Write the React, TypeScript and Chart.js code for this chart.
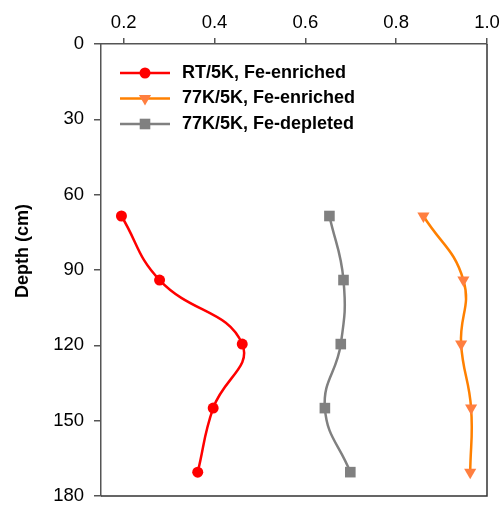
import { useEffect, useRef } from 'react';
import { Chart, registerables } from 'chart.js';

Chart.register(...registerables);

const depths = [68.5, 94, 119.5, 145, 170.5];
const rtFeEnriched = [0.195, 0.279, 0.461, 0.397, 0.363];
const k77FeEnriched = [0.86, 0.948, 0.943, 0.965, 0.963];
const k77FeDepleted = [0.653, 0.684, 0.678, 0.643, 0.699];
const xTicks = [0.2, 0.4, 0.6, 0.8, 1.0];
const seriesLabels = ['RT/5K, Fe-enriched', '77K/5K, Fe-enriched', '77K/5K, Fe-depleted'];
const yTitle = 'Depth (cm)';

const FONT = '"Liberation Sans", Arial, sans-serif';
const RED = '#ff0000';
const ORANGE_LINE = '#ff8000';
const ORANGE_MARK = '#ff7f40';
const GRAY = '#808080';

const legendItems = [
  { label: seriesLabels[0], line: RED, mark: RED, style: 'circle' },
  { label: seriesLabels[1], line: ORANGE_LINE, mark: ORANGE_MARK, style: 'tri' },
  { label: seriesLabels[2], line: GRAY, mark: GRAY, style: 'rect' },
];

function drawMarker(ctx: CanvasRenderingContext2D, style: string, x: number, y: number, color: string) {
  ctx.save();
  ctx.fillStyle = color;
  ctx.beginPath();
  if (style === 'circle') {
    ctx.arc(x, y, 5.5, 0, Math.PI * 2);
  } else if (style === 'tri') {
    const r = 7;
    ctx.moveTo(x, y + r);
    ctx.lineTo(x - r * Math.sqrt(3) / 2, y - r / 2);
    ctx.lineTo(x + r * Math.sqrt(3) / 2, y - r / 2);
    ctx.closePath();
  } else {
    const s = 5.3;
    ctx.rect(x - s, y - s, 2 * s, 2 * s);
  }
  ctx.fill();
  ctx.restore();
}

const overlayPlugin = {
  id: 'overlay',
  afterDraw(chart: any) {
    const ctx: CanvasRenderingContext2D = chart.ctx;
    const a = chart.chartArea;
    ctx.save();
    ctx.strokeStyle = '#333333';
    ctx.lineWidth = 1.5;
    ctx.beginPath();
    ctx.moveTo(a.right, a.top);
    ctx.lineTo(a.right, a.bottom);
    ctx.lineTo(a.left, a.bottom);
    ctx.stroke();

    const rows = [73, 98.5, 124];
    legendItems.forEach((it, i) => {
      const y = rows[i];
      ctx.strokeStyle = it.line;
      ctx.lineWidth = 2.5;
      ctx.beginPath();
      ctx.moveTo(120, y);
      ctx.lineTo(170, y);
      ctx.stroke();
      drawMarker(ctx, it.style, 145, y, it.mark);
      ctx.fillStyle = '#000';
      ctx.font = `bold 18px ${FONT}`;
      ctx.textAlign = 'left';
      ctx.textBaseline = 'middle';
      ctx.fillText(it.label, 182, y);
    });

    ctx.translate(23, 251);
    ctx.rotate(-Math.PI / 2);
    ctx.font = `bold 18px ${FONT}`;
    ctx.fillStyle = '#000';
    ctx.textAlign = 'center';
    ctx.textBaseline = 'middle';
    ctx.fillText(yTitle, 0, 0);
    ctx.restore();
  },
};

export default function App() {
  const ref = useRef<HTMLCanvasElement | null>(null);

  useEffect(() => {
    document.body.style.margin = '0';
    const canvas = ref.current;
    if (!canvas) return;
    const mk = (vals: number[]) => vals.map((v, i) => ({ x: v, y: depths[i] }));
    const chart = new Chart(canvas, {
      type: 'scatter',
      data: {
        datasets: [
          {
            label: seriesLabels[0],
            data: mk(rtFeEnriched),
            showLine: true,
            tension: 0.45,
            borderColor: RED,
            borderWidth: 2.5,
            pointStyle: 'circle',
            pointRadius: 5.5,
            pointBackgroundColor: RED,
            pointBorderColor: RED,
            pointBorderWidth: 0,
          },
          {
            label: seriesLabels[1],
            data: mk(k77FeEnriched),
            showLine: true,
            tension: 0.45,
            borderColor: ORANGE_LINE,
            borderWidth: 2.5,
            pointStyle: 'triangle',
            rotation: 180,
            pointRadius: 7,
            pointBackgroundColor: ORANGE_MARK,
            pointBorderColor: ORANGE_MARK,
            pointBorderWidth: 0,
          },
          {
            label: seriesLabels[2],
            data: mk(k77FeDepleted),
            showLine: true,
            tension: 0.45,
            borderColor: GRAY,
            borderWidth: 2.5,
            pointStyle: 'rect',
            pointRadius: 7.5,
            pointBackgroundColor: GRAY,
            pointBorderColor: GRAY,
            pointBorderWidth: 0,
          },
        ],
      } as any,
      options: {
        animation: false,
        responsive: false,
        devicePixelRatio: 1,
        layout: { padding: { left: 0, top: 0, right: 14, bottom: 11 } },
        plugins: { legend: { display: false }, tooltip: { enabled: false } },
        scales: {
          x: {
            type: 'linear',
            position: 'top',
            min: 0.15,
            max: 1.0,
            afterBuildTicks: (s: any) => {
              s.ticks = xTicks.map((v) => ({ value: v }));
            },
            afterFit: (s: any) => {
              s.height = 44;
              s.paddingLeft = 0;
              s.paddingRight = 0;
              s.paddingTop = 0;
              s.paddingBottom = 0;
            },
            ticks: {
              color: '#000',
              font: { family: FONT, size: 18.5 },
              padding: 4,
              maxRotation: 0,
              callback: (v: any) => Number(v).toFixed(1),
            },
            grid: { drawOnChartArea: false, drawTicks: true, tickLength: 6, color: '#555555', lineWidth: 1.5 },
            border: { color: '#555555', width: 1.5 },
          },
          y: {
            type: 'linear',
            position: 'left',
            reverse: true,
            min: 0,
            max: 180,
            afterFit: (s: any) => {
              s.width = 101;
              s.paddingLeft = 0;
              s.paddingRight = 0;
              s.paddingTop = 0;
              s.paddingBottom = 0;
            },
            ticks: {
              stepSize: 30,
              color: '#000',
              font: { family: FONT, size: 18.5 },
              padding: 10,
            },
            grid: { drawOnChartArea: false, drawTicks: true, tickLength: 7, color: '#555555', lineWidth: 1.5 },
            border: { color: '#555555', width: 1.5 },
          },
        },
      } as any,
      plugins: [overlayPlugin],
    });
    return () => chart.destroy();
  }, []);

  return (
    <div style={{ width: 501, height: 507 }}>
      <canvas ref={ref} width={501} height={507} style={{ display: 'block' }} />
    </div>
  );
}
